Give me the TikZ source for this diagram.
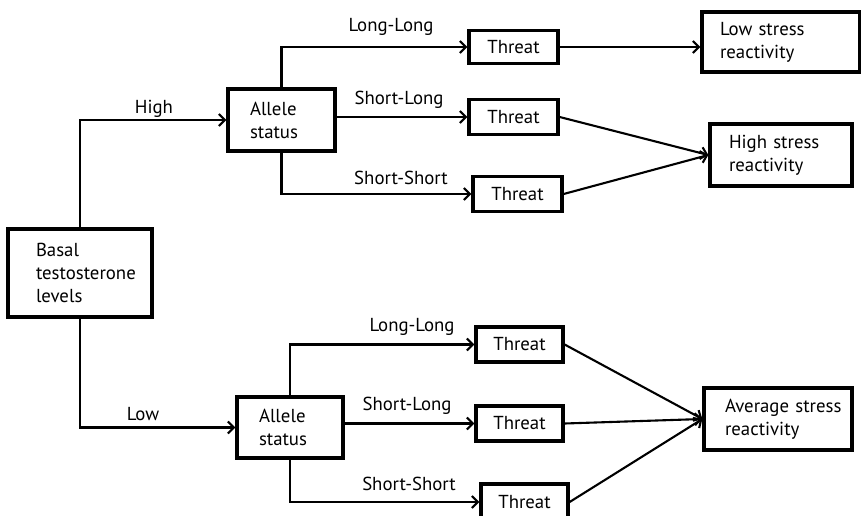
\documentclass[tikz,border=0pt]{standalone}
\usepackage{fontspec}
\setmainfont{PT Sans}
\usetikzlibrary{arrows.meta}
\begin{document}
\begin{tikzpicture}[x=1pt,y=-1pt,
  box/.style={draw, line width=3.3pt, inner sep=0pt, font=\fontsize{18.8}{23}\selectfont},
  lbox/.style={box, align=left, inner xsep=#1},
  conn/.style={line width=2.1pt},
  arr/.style={conn, -{Straight Barb[length=6pt,width=12pt,line width=2.1pt]}},
  lab/.style={font=\fontsize{18.8}{23}\selectfont, inner sep=0pt}]
\useasboundingbox (0,0) rectangle (861,516);
% boxes
\node[lbox=28pt, text width=88pt, minimum height=88pt] (basal) at (80,273) {Basal\\\mbox{testosterone}\\levels};
\node[lbox=22pt, text width=63pt, minimum height=62pt] (alH) at (281.5,120) {Allele\\status};
\node[lbox=22pt, text width=62pt, minimum height=61pt] (alL) at (290,427.5) {Allele\\status};
\node[box, minimum width=89pt, minimum height=33pt] (tH1) at (513.5,47) {Threat};
\node[box, minimum width=89pt, minimum height=35pt] (tH2) at (513.5,117) {Threat};
\node[box, minimum width=89pt, minimum height=35pt] (tH3) at (517.5,194) {Threat};
\node[box, minimum width=87pt, minimum height=35pt] (tL1) at (519.5,344.5) {Threat};
\node[box, minimum width=87pt, minimum height=35pt] (tL2) at (519.5,423.5) {Threat};
\node[box, minimum width=87pt, minimum height=36pt] (tL3) at (524.5,502) {Threat};
\node[lbox=18pt, text width=122pt, minimum height=60pt] (low) at (781,42) {\mbox{Low stress}\\reactivity};
\node[lbox=19pt, text width=104pt, minimum height=62pt] (high) at (781,155) {\mbox{High stress}\\reactivity};
\node[lbox=21pt, text width=106pt, minimum height=62pt] (avg) at (778,419) {\mbox{Average stress}\\reactivity};
% labels
\node[lab] (lHigh) at (154,109) {High};
\node[lab] (lLow) at (143,414) {Low};
\node[lab] (lHLL) at (391,27) {Long-Long};
\node[lab] (lHSL) at (399,100) {Short-Long};
\node[lab] (lHSS) at (401,178) {Short-Short};
\node[lab] (lLLL) at (412,327) {Long-Long};
\node[lab] (lLSL) at (407,406) {Short-Long};
\node[lab] (lLSS) at (409,484) {Short-Short};
% connectors
\draw[arr] (basal.north) |- (alH.west);
\draw[arr] (basal.south) |- (alL.west);
\draw[arr] (alH.north) |- (tH1.west);
\draw[arr] (alH.east |- tH2.west) -- (tH2.west);
\draw[arr] (alH.south) |- (tH3.west);
\draw[arr] (alL.north) |- (tL1.west);
\draw[arr] (alL.east |- tL2.west) -- (tL2.west);
\draw[arr] (alL.south) |- (tL3.west);
\draw[arr] (tH1.east) -- (tH1.east -| low.west);
\draw[arr] (tH2.east) -- (high.west);
\draw[arr] (tH3.east) -- (high.west);
\draw[arr] (tL1.east) -- (avg.west);
\draw[arr] (tL2.east) -- (avg.west);
\draw[arr] (tL3.east) -- (avg.west);
\end{tikzpicture}
\end{document}
